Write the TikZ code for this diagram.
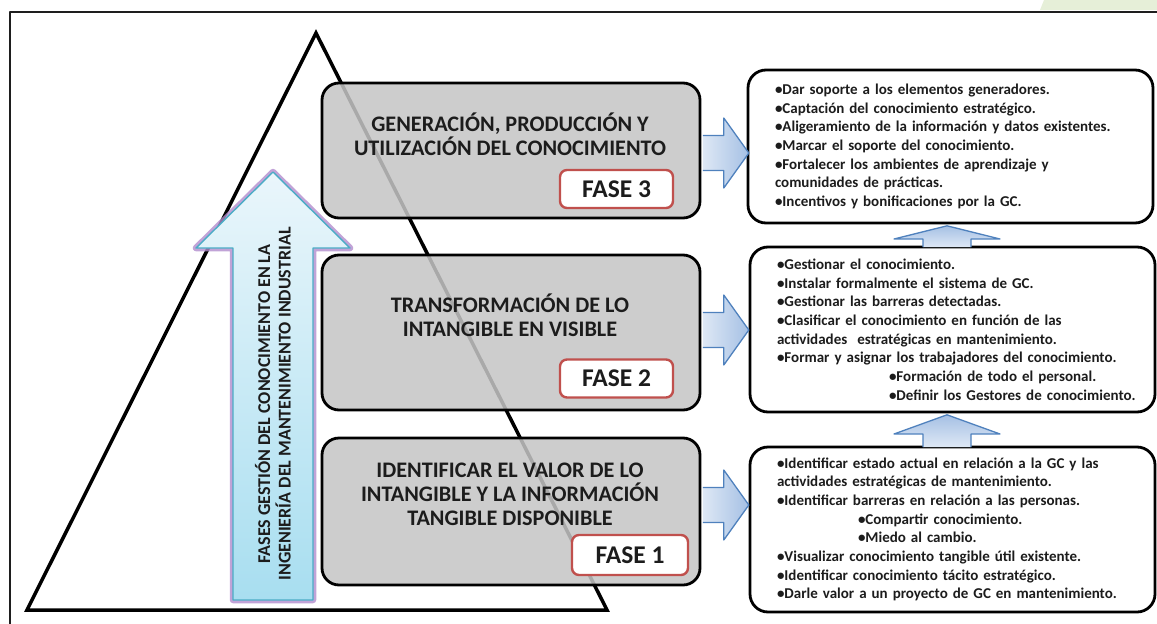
\documentclass[tikz,border=0pt]{standalone}
\usepackage{fontspec}
\setmainfont{Carlito}
\usepackage{xcolor}
\usepackage{tikz}
\definecolor{grisfase}{RGB}{197,197,197}
\definecolor{rojo}{RGB}{192,80,77}
\definecolor{azul}{RGB}{79,129,189}
\definecolor{azulclaro}{RGB}{222,232,245}
\definecolor{azulmedio}{RGB}{165,192,228}
\definecolor{cian}{RGB}{75,172,198}
\definecolor{lila}{RGB}{178,140,205}
\definecolor{celeste1}{RGB}{234,246,251}
\definecolor{celeste2}{RGB}{168,222,240}
\definecolor{verde}{RGB}{230,239,216}
\definecolor{marco}{RGB}{30,30,30}
\definecolor{texto}{RGB}{28,28,28}

\begin{document}
\begin{tikzpicture}[x=1pt,y=-1pt,line join=round,
    fase/.style={draw,line width=2.8pt,fill=grisfase,fill opacity=0.86,rounded corners=17pt,minimum width=378pt,inner sep=0pt},
    etiqueta/.style={draw=rojo,line width=2.4pt,fill=white,rounded corners=7pt,inner sep=0pt,minimum height=38pt,font=\fontsize{25.5}{28}\selectfont\bfseries,text=texto},
    titulo/.style={align=center,font=\fontsize{22.2}{24}\selectfont\bfseries,text=texto},
    lista/.style={draw,line width=2.8pt,fill=white,rounded corners=18pt,inner xsep=27pt,inner ysep=0pt,text width=351pt,minimum height=165pt,align=left,font=\fontsize{15}{18.67}\selectfont\bfseries,text=texto},
    flechader/.style={draw=azul,line width=1.3pt,left color=azulclaro,right color=azulmedio},
    flechasub/.style={draw=azul,line width=1.3pt,top color=azulmedio,bottom color=azulclaro}]

    \useasboundingbox (0,0) rectangle (1157,624);
    \fill[verde] (1040,10) -- (1044,0) -- (1157,0) -- (1157,10) -- cycle;
    \draw[line width=2pt,color=marco] (10,624) -- (10,12) -- (1157,12);
    \draw[line width=3.5pt,line join=miter] (316,33) -- (607,610) -- (27,610) -- cycle;

    \shade[draw=cian,line width=1.4pt,top color=celeste1,bottom color=celeste2,
        preaction={draw=lila,line width=6.5pt,draw opacity=0.8}]
        (273,172) -- (350,248) -- (313,248) -- (313,600) -- (233,600) -- (233,248) -- (196,248) -- cycle;
    \node[rotate=90,align=center,font=\fontsize{18}{20.5}\selectfont\bfseries,text=texto] (lema) at (273,404)
        {FASES GESTIÓN DEL CONOCIMIENTO EN LA\\INGENIERÍA DEL MANTENIMIENTO INDUSTRIAL};

    \node[fase,minimum height=135pt] (g3) at (511,150.5) {};
    \node[fase,minimum height=155pt] (g2) at (511,332.5) {};
    \node[fase,minimum height=147pt] (g1) at (511,511.5) {};

    \node[etiqueta,minimum width=113pt] (f3) at (616.5,189) {FASE 3};
    \node[etiqueta,minimum width=113pt] (f2) at (616.5,378.5) {FASE 2};
    \node[etiqueta,minimum width=116pt,minimum height=40pt] (f1) at (630,555) {FASE 1};

    \node[titulo] (t3) at (510,134.5) {GENERACIÓN, PRODUCCIÓN Y\\UTILIZACIÓN DEL CONOCIMIENTO};
    \node[titulo] (t2) at (510,315.5) {TRANSFORMACIÓN DE LO\\INTANGIBLE EN VISIBLE};
    \node[titulo] (t1) at (510,494) {IDENTIFICAR EL VALOR DE LO\\INTANGIBLE Y LA INFORMACIÓN\\TANGIBLE DISPONIBLE};

    \node[lista,minimum height=153pt] (l3) at (950.5,146.5) {•Dar soporte a los elementos generadores.\\
        •Captación del conocimiento estratégico.\\
        •Aligeramiento de la información y datos existentes.\\
        •Marcar el soporte del conocimiento.\\
        •Fortalecer los ambientes de aprendizaje y\\
        comunidades de prácticas.\\
        •Incentivos y bonificaciones por la GC.};
    \node[lista] (l2) at (952.5,329.5) {•Gestionar el conocimiento.\\
        •Instalar formalmente el sistema de GC.\\
        •Gestionar las barreras detectadas.\\
        •Clasificar el conocimiento en función de las\\
        actividades \ estratégicas en mantenimiento.\\
        •Formar y asignar los trabajadores del conocimiento.\\
        \hspace*{112pt}\mbox{•Formación de todo el personal.}\\
        \hspace*{112pt}\mbox{•Definir los Gestores de conocimiento.}};
    \node[lista] (l1) at (952.5,529.5) {•Identificar estado actual en relación a la GC y las\\
        actividades estratégicas de mantenimiento.\\
        •Identificar barreras en relación a las personas.\\
        \hspace*{81pt}•Compartir conocimiento.\\
        \hspace*{81pt}•Miedo al cambio.\\
        •Visualizar conocimiento tangible útil existente.\\
        •Identificar conocimiento tácito estratégico.\\
        •Darle valor a un proyecto de GC en mantenimiento.};

    \shade[flechader] ([xshift=1.4pt,yshift=-2.5pt]g3.east) ++(0,-17.5) -- ++(21,0) -- ++(0,-17.5) -- ++(25,35) -- ++(-25,35) -- ++(0,-17.5) -- ++(-21,0);
    \shade[flechader] ([xshift=1.4pt,yshift=2.5pt]g2.east) ++(0,-17.5) -- ++(21,0) -- ++(0,-17.5) -- ++(25,35) -- ++(-25,35) -- ++(0,-17.5) -- ++(-21,0);
    \shade[flechader] ([xshift=1.4pt,yshift=6.5pt]g1.east) ++(0,-17.5) -- ++(21,0) -- ++(0,-17.5) -- ++(25,35) -- ++(-25,35) -- ++(0,-17.5) -- ++(-21,0);

    \shade[flechasub] ([xshift=-3.5pt,yshift=-1.4pt]l3.south) ++(-24,21.2) -- ++(0,-8) -- ++(-29,0) -- ++(53,-13.2) -- ++(53,13.2) -- ++(-29,0) -- ++(0,8);
    \shade[flechasub] ([xshift=-5.5pt,yshift=-1.4pt]l2.south) ++(-24,32.2) -- ++(0,-13) -- ++(-29,0) -- ++(53,-19.2) -- ++(53,19.2) -- ++(-29,0) -- ++(0,13);
\end{tikzpicture}
\end{document}
